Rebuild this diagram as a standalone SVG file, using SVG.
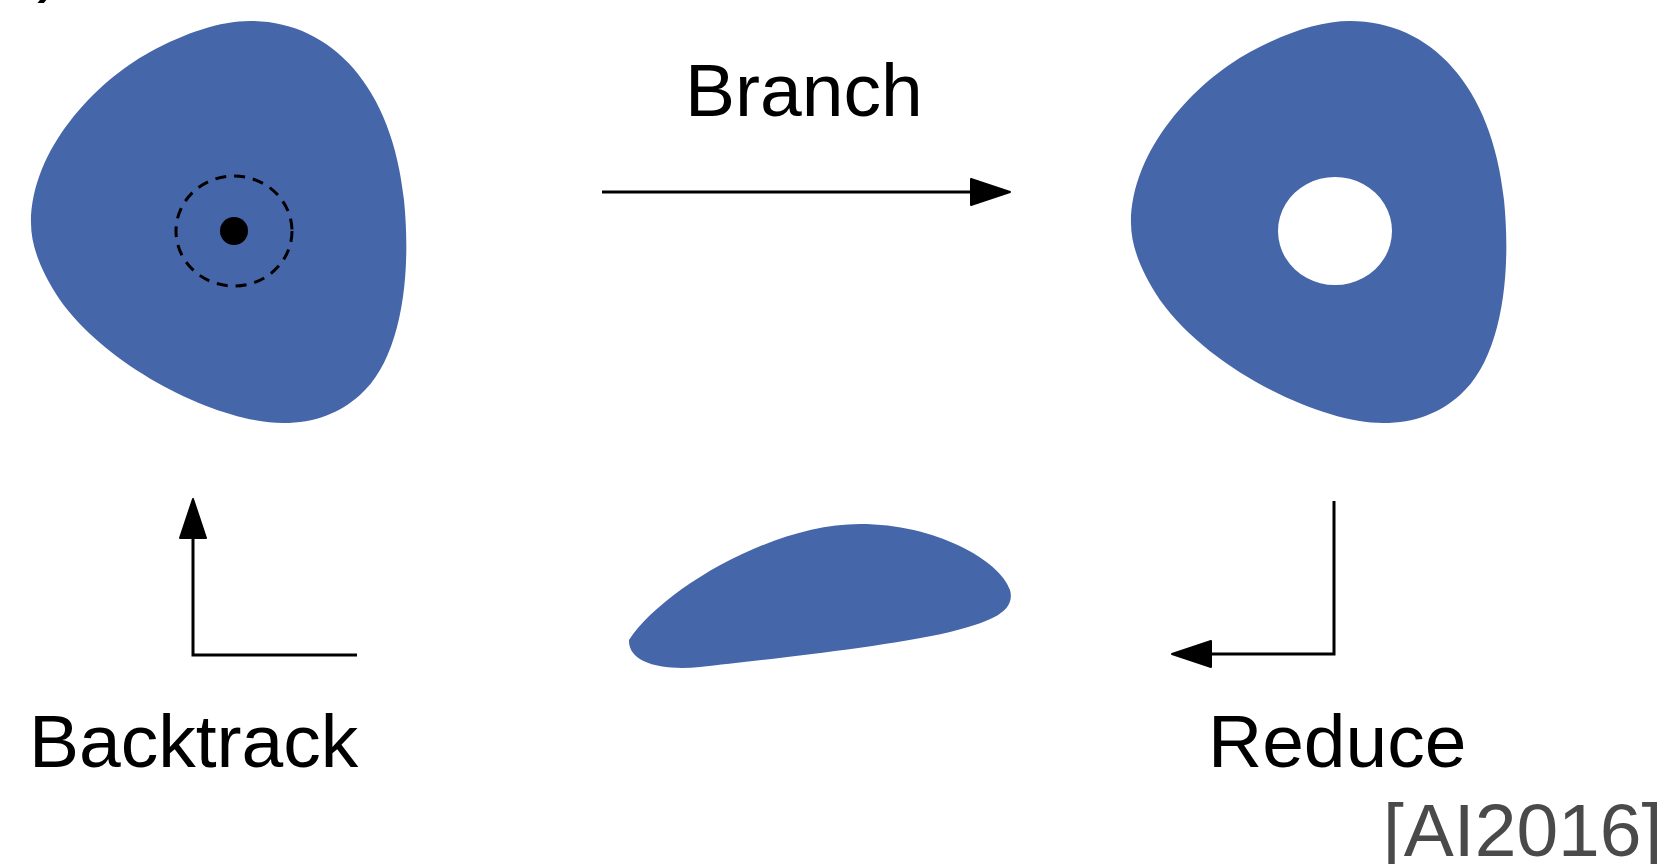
<svg xmlns="http://www.w3.org/2000/svg" width="1669" height="864" viewBox="0 0 1669 864">
  <style>
    .blob { fill: #4666aa; }
    .lbl { font-family: "Liberation Sans", Arial, Helvetica, sans-serif; font-size: 75px; fill: #000; }
    .cite { font-family: "Liberation Sans", Arial, Helvetica, sans-serif; font-size: 75px; fill: #4a4a4a; }
    .conn { fill: none; stroke: #000; stroke-width: 3; stroke-linejoin: miter; }
  </style>
  <defs>
    <marker id="head" markerUnits="userSpaceOnUse" markerWidth="44" markerHeight="32" viewBox="-2 -16 44 32" refX="0" refY="0" orient="auto">
      <path d="M0,-13 L39,0 L0,13 Z" fill="#000" stroke="#000" stroke-width="2" stroke-linejoin="round"/>
    </marker>
  </defs>

  <text class="lbl" x="37" y="-12">)</text>

  <g id="state-start">
    <path class="blob" d="M 250 21 C 330 21, 392 85, 404 200 C 412 280, 400 360, 360 395 C 340 413, 315 423, 283 423 C 220 423, 110 370, 60 300 C 40 270, 31 245, 31 223 C 31 150, 95 82, 150 52 C 185 33, 220 21, 250 21 Z"/>
    <ellipse cx="234" cy="231" rx="58" ry="55" fill="none" stroke="#000" stroke-width="3" stroke-dasharray="11 8"/>
    <circle cx="234" cy="231" r="14" fill="#000"/>
  </g>

  <g id="state-branched">
    <path class="blob" fill-rule="evenodd" d="M 1350 21 C 1430 21, 1492 85, 1504 200 C 1512 280, 1500 360, 1460 395 C 1440 413, 1415 423, 1383 423 C 1320 423, 1210 370, 1160 300 C 1140 270, 1131 245, 1131 223 C 1131 150, 1195 82, 1250 52 C 1285 33, 1320 21, 1350 21 Z M 1335 177 A 57 54 0 1 0 1335.01 177 Z"/>
  </g>

  <g id="state-reduced">
    <path class="blob" d="M 629 640 C 660 592, 770 524, 860 524 C 935 524, 1000 560, 1010 590 C 1016 612, 990 622, 950 632 C 880 648, 760 660, 700 667 C 660 671, 628 662, 629 640 Z"/>
  </g>

  <g id="connectors">
    <line class="conn" x1="602" y1="192" x2="971" y2="192" marker-end="url(#head)"/>
    <polyline class="conn" points="1334,501 1334,654 1211,654" marker-end="url(#head)"/>
    <polyline class="conn" points="357,655 193,655 193,538" marker-end="url(#head)"/>
  </g>

  <g id="labels">
    <text class="lbl" x="685" y="116">Branch</text>
    <text class="lbl" x="29" y="767">Backtrack</text>
    <text class="lbl" x="1208" y="767">Reduce</text>
    <text class="cite" x="1383" y="856">[AI2016]</text>
  </g>
</svg>
